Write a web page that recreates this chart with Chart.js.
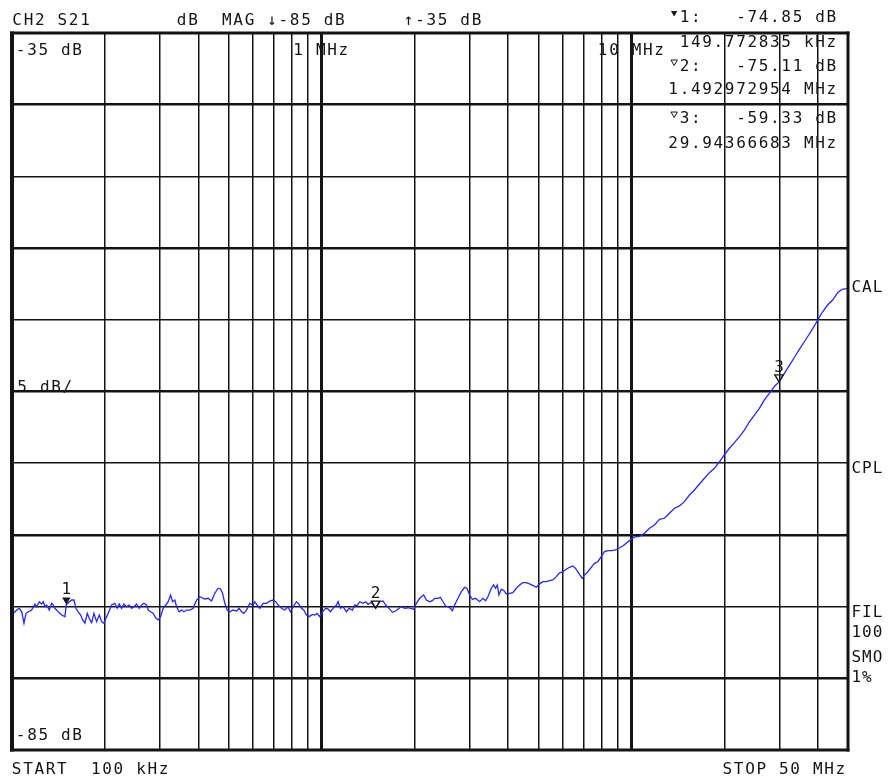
<!DOCTYPE html>
<html>
<head>
<meta charset="utf-8">
<title>CH2 S21 log magnitude</title>
<script src="https://cdn.jsdelivr.net/npm/chart.js@4.4.1/dist/chart.umd.min.js"></script>
<style>
  html, body { margin: 0; padding: 0; background: #fff; }
  canvas { display: block; }
</style>
</head>
<body>
<canvas id="c" width="888" height="779"></canvas>
<script>
// Sweep settings: 100 kHz .. 50 MHz, reference -35 dB top, 5 dB/div
const startKHz = 100;
const stopKHz = 50000;
const refTopDb = -35;
const refBottomDb = -85;
const dbPerDiv = 5;

// Measured S21 trace (frequency in kHz, magnitude in dB)
const freqKHz = [
  100.0, 101.0, 103.6, 105.6, 107.5, 109.3, 111.0, 112.9, 115.7, 118.6,
  120.1, 122.5, 124.7, 126.2, 127.8, 129.4, 131.9, 134.3, 135.9, 137.6,
  141.0, 144.7, 148.2, 149.772835, 155.8, 158.5, 160.9, 163.6, 166.6, 169.1,
  172.0, 175.0, 178.5, 180.8, 183.9, 187.6, 191.3, 194.7, 198.1, 201.0,
  204.5, 209.7, 214.9, 218.6, 221.9, 225.9, 229.8, 234.4, 239.0, 243.3,
  247.5, 252.5, 257.4, 262.1, 266.6, 272.0, 275.2, 280.2, 285.7, 291.4,
  296.5, 301.8, 307.7, 313.9, 319.3, 325.1, 329.9, 335.6, 339.9, 346.5,
  352.7, 358.8, 366.1, 375.1, 384.4, 394.3,
  404.1, 419.3, 429.8, 440.8, 451.7, 462.9, 471.2, 478.3, 486.5, 494.9,
  504.9, 517.5, 530.7, 541.0, 550.8, 560.3, 571.8, 585.8, 600.4, 608.0,
  618.5, 631.0, 646.6, 663.1, 679.6, 696.5, 710.6, 722.8, 741.3, 759.7,
  778.6, 792.6, 808.0, 828.6, 844.8, 860.0, 874.9, 892.6, 910.0, 933.3,
  949.4, 965.8, 985.3, 1009.7, 1030.0, 1047.9, 1066.7, 1087.5, 1115.4, 1128.8,
  1149.0, 1171.5, 1201.4, 1224.8, 1256.1, 1277.7, 1299.8, 1326.0, 1359.0, 1386.6,
  1410.4, 1446.5, 1492.972954, 1538.5, 1576.5, 1608.7, 1648.6, 1690.8, 1732.8, 1775.9,
  1807.7, 1852.4, 1898.5,
  1980.5, 2020.6, 2070.7, 2133.2, 2176.3, 2230.7, 2276.4, 2314.8, 2372.2, 2414.5,
  2462.2, 2511.9, 2555.2, 2601.1, 2640.0, 2685.5, 2752.0, 2822.6, 2892.7, 2942.4,
  3002.2, 3063.0, 3138.9, 3233.5, 3313.8, 3380.8, 3439.3, 3527.2, 3587.9, 3641.7,
  3687.9, 3732.2, 3799.2, 3873.2, 3942.7, 4040.7, 4141.1, 4246.6, 4352.6, 4460.8,
  4574.3, 4687.7, 4829.5, 4927.4, 5049.3, 5174.8, 5307.1, 5438.9, 5574.2, 5718.1,
  5857.9, 6003.6, 6157.1, 6309.6, 6466.1, 6597.3, 6760.9, 6933.6, 7054.1, 7228.3,
  7413.1, 7596.8, 7786.0, 7984.6, 8183.2, 8385.8, 8663.8, 8880.6, 9099.8, 9374.7,
  9612.2, 9852.6, 10052, 10300, 10612,
  11014, 11430, 11862, 12312, 12777, 13260, 13762, 14283, 14824, 15385,
  15967, 16572, 17199, 17850, 18524, 19226, 19805, 20707, 21493, 22307,
  23148, 24023, 24932, 25878, 26855, 27872, 28927, 29943.66683, 31157, 32335,
  33559, 34829, 36145, 37513, 38934, 40197, 41411, 42976, 44608, 46290,
  47829, 49600, 50000
];
const s21Db = [
  -74.66, -75.47, -75.24, -75.12, -75.36, -76.16, -75.47, -75.36, -75.24, -74.82,
  -75.01, -74.66, -74.82, -74.66, -75.01, -74.89, -75.24, -74.77, -74.89, -75.12,
  -75.36, -75.59, -75.70, -74.85, -74.54, -74.54, -75.12, -75.36, -75.59, -75.93,
  -76.16, -75.47, -75.93, -76.12, -75.47, -76.05, -75.59, -76.05, -76.16, -75.82,
  -75.47, -74.89, -74.77, -75.12, -74.82, -75.12, -74.82, -75.01, -74.89, -75.12,
  -75.01, -74.82, -75.12, -74.89, -74.77, -74.89, -75.24, -75.36, -75.47, -75.82,
  -75.93, -75.70, -75.12, -74.89, -74.66, -74.19, -74.66, -74.54, -75.01, -75.36,
  -75.24, -75.36, -75.24, -75.24, -75.12, -74.54,
  -74.31, -74.47, -74.42, -74.61, -74.07, -73.72, -73.77, -74.07, -74.77, -75.24,
  -75.36, -75.24, -75.31, -75.12, -75.36, -75.47, -75.24, -74.77, -74.89, -74.66,
  -74.89, -75.12, -74.77, -74.77, -74.61, -74.54, -74.66, -74.89, -75.12, -75.24,
  -75.01, -75.36, -75.01, -74.66, -74.84, -75.12, -75.24, -75.59, -75.70, -75.54,
  -75.59, -75.47, -75.70, -75.31, -75.12, -75.17, -75.36, -75.12, -74.89, -74.66,
  -75.12, -75.01, -75.36, -75.12, -75.24, -74.89, -74.94, -74.66, -74.77, -74.66,
  -74.84, -74.70, -75.11, -74.66, -74.61, -74.89, -75.12, -75.40, -75.31, -75.12,
  -75.01, -75.12, -75.08,
  -75.19, -74.77, -74.42, -74.19, -74.54, -74.66, -74.59, -74.42, -74.42, -74.35,
  -74.66, -74.96, -75.01, -75.12, -75.29, -74.89, -74.42, -73.96, -73.65, -73.72,
  -74.19, -74.49, -74.42, -74.66, -74.42, -74.59, -74.31, -73.72, -73.49, -73.72,
  -73.49, -74.19, -73.79, -73.89, -74.12, -74.07, -74.03, -73.72, -73.49, -73.33,
  -73.33, -73.42, -73.56, -73.65, -73.42, -73.26, -73.26, -73.19, -73.14, -72.91,
  -72.64, -72.57, -72.40, -72.26, -72.17, -72.33, -72.68, -73.03, -72.80, -72.57,
  -72.26, -71.98, -71.87, -71.52, -71.17, -71.10, -71.10, -71.05, -70.93, -70.77,
  -70.58, -70.40, -70.24, -70.13, -70.10,
  -69.89, -69.54, -69.31, -68.91, -68.84, -68.49, -68.14, -67.98, -67.68, -67.22,
  -66.87, -66.45, -66.05, -65.66, -65.36, -64.90, -64.50, -63.96, -63.57, -63.15,
  -62.69, -62.11, -61.64, -61.17, -60.59, -60.13, -59.65, -59.33, -58.74, -58.18,
  -57.63, -57.06, -56.53, -55.99, -55.43, -54.90, -54.44, -53.97, -53.62, -53.11,
  -52.87, -52.83, -52.83
];

// Markers
const markerKHz = [149.772835, 1492.972954, 29943.66683];
const markerDb = [-74.85, -75.11, -59.33];
const markerActive = [true, false, false];

// Graticule
const gridKHz = [
  100, 200, 300, 400, 500, 600, 700, 800, 900,
  1000, 2000, 3000, 4000, 5000, 6000, 7000, 8000, 9000,
  10000, 20000, 30000, 40000, 50000
];
const majorGridKHz = [1000, 10000];
const gridDb = [-85, -80, -75, -70, -65, -60, -55, -50, -45, -40, -35];
const majorGridDb = [-80, -70, -60, -50, -40];

const INK = '#141414';
const TRACE = '#2626ff';
const FONT = '16px "DejaVu Sans Mono", "Liberation Mono", monospace';
const ADV = 11.3;

// fixed-cell text, one character per cell
function mono(ctx, text, x0, base, adv) {
  const a = adv || ADV;
  ctx.textAlign = 'center';
  ctx.textBaseline = 'alphabetic';
  for (let i = 0; i < text.length; i++) {
    ctx.fillText(text[i], x0 + a * (i + 0.5), base);
  }
}
function monoRight(ctx, text, xr, base, adv) {
  const a = adv || ADV;
  mono(ctx, text, xr - a * text.length, base, a);
}
function tri(ctx, cx, top, half, h, filled) {
  ctx.beginPath();
  ctx.moveTo(cx - half, top);
  ctx.lineTo(cx + half, top);
  ctx.lineTo(cx, top + h);
  ctx.closePath();
  if (filled) ctx.fill(); else ctx.stroke();
}
function fmtFreq(kHz) {
  if (kHz < 1000) return kHz.toPrecision(9) + ' kHz';
  return (kHz / 1000).toPrecision(10) + ' MHz';
}
function fmtKHzShort(kHz) {
  return kHz < 1000 ? kHz + ' kHz' : (kHz / 1000) + ' MHz';
}

const overlay = {
  id: 'overlay',
  afterDraw(chart) {
    const { ctx, chartArea: a, scales } = chart;
    const x = scales.x, y = scales.y;
    ctx.save();
    ctx.fillStyle = INK;
    ctx.strokeStyle = INK;

    // frame
    ctx.fillRect(a.left - 2, a.top - 1.5, 4, a.bottom - a.top + 3);
    ctx.fillRect(a.left - 2, a.top - 1.5, a.right - a.left + 3.5, 3);
    ctx.fillRect(a.right - 1.5, a.top - 1.5, 3, a.bottom - a.top + 3);
    ctx.fillRect(a.left - 2, a.bottom - 1.5, a.right - a.left + 3.5, 3);

    ctx.font = FONT;

    // header
    mono(ctx, 'CH2 S21', 11.5, 25);
    mono(ctx, 'dB  MAG \u2193' + refBottomDb + ' dB', 176, 25);
    mono(ctx, '\u2191' + refTopDb + ' dB', 403, 25);

    // scale labels inside the graticule
    mono(ctx, refTopDb + ' dB', 15, 55);
    mono(ctx, refBottomDb + ' dB', 15, 740);
    mono(ctx, dbPerDiv + ' dB/', 16.5, 392);
    mono(ctx, '1 MHz', 292.5, 55);
    mono(ctx, '10 MHz', 597, 55);

    // marker readout
    const rows = [[22, 47], [71, 94], [123, 148]];
    for (let i = 0; i < markerKHz.length; i++) {
      const [b1, b2] = rows[i];
      const line1 = (i + 1) + ':   ' + markerDb[i].toFixed(2) + ' dB';
      monoRight(ctx, line1, 837, b1);
      const cx = 837 - ADV * line1.length - ADV * 0.5;
      ctx.lineWidth = 1;
      tri(ctx, cx + 1, b1 - 11, 3.2, 5.5, markerActive[i]);
      monoRight(ctx, fmtFreq(markerKHz[i]), 837, b2);
    }

    // right-hand annotations
    const side = [['CAL', 292], ['CPL', 473], ['FIL', 617], ['100', 637], ['SMO', 662], ['1%', 682]];
    side.forEach(([t, b]) => mono(ctx, t, 851, b, 10.6));

    // footer
    mono(ctx, 'START  ' + fmtKHzShort(startKHz), 11, 774);
    monoRight(ctx, 'STOP ' + fmtKHzShort(stopKHz), 846, 774);

    // markers on the trace
    ctx.lineWidth = 1.3;
    for (let i = 0; i < markerKHz.length; i++) {
      const px = x.getPixelForValue(markerKHz[i]);
      const py = y.getPixelForValue(markerDb[i]);
      tri(ctx, px, py - 7, 4.2, 7, markerActive[i]);
      ctx.textAlign = 'center';
      ctx.fillText(String(i + 1), px, py - 10);
    }
    ctx.restore();
  }
};

new Chart(document.getElementById('c'), {
  type: 'line',
  data: {
    datasets: [{
      data: freqKHz.map((f, i) => ({ x: f, y: s21Db[i] })),
      borderColor: TRACE,
      borderWidth: 1.3,
      pointRadius: 0,
      tension: 0,
      fill: false
    }]
  },
  options: {
    responsive: false,
    animation: false,
    devicePixelRatio: 1,
    layout: { padding: { left: 12, right: 40, top: 33, bottom: 29 } },
    plugins: { legend: { display: false }, tooltip: { enabled: false } },
    scales: {
      x: {
        type: 'logarithmic',
        min: startKHz,
        max: stopKHz,
        afterBuildTicks: s => { s.ticks = gridKHz.map(v => ({ value: v })); },
        afterFit: s => { s.height = 0; },
        ticks: { display: false },
        border: { display: false },
        grid: {
          drawTicks: false,
          color: INK,
          lineWidth: c => {
            const v = c.tick && c.tick.value;
            if (v === startKHz || v === stopKHz) return 0;
            return majorGridKHz.includes(v) ? 3 : 1.5;
          }
        }
      },
      y: {
        type: 'linear',
        min: refBottomDb,
        max: refTopDb,
        afterBuildTicks: s => { s.ticks = gridDb.map(v => ({ value: v })); },
        afterFit: s => { s.width = 0; },
        ticks: { display: false },
        border: { display: false },
        grid: {
          drawTicks: false,
          color: INK,
          lineWidth: c => {
            const v = c.tick && c.tick.value;
            if (v === refTopDb || v === refBottomDb) return 0;
            return majorGridDb.includes(v) ? 2.6 : 1.5;
          }
        }
      }
    }
  },
  plugins: [overlay]
});
</script>
</body>
</html>
